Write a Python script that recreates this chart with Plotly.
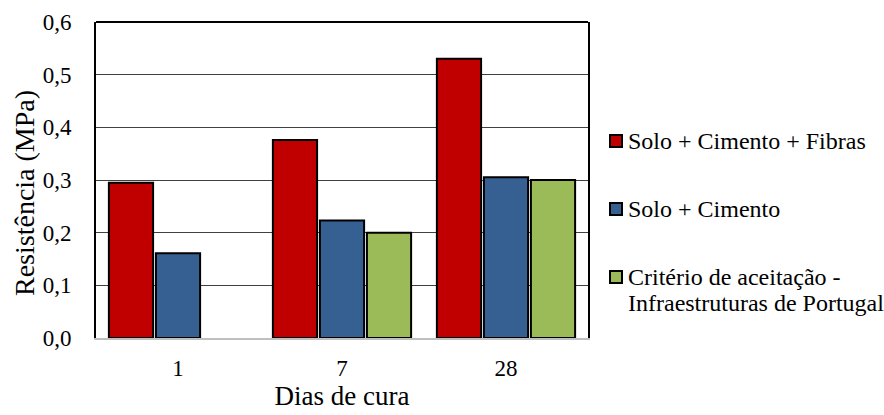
import plotly.graph_objects as go

# Dias de cura (categorias do eixo x)
dias = ["1", "7", "28"]

# Resistência (MPa) de cada série
solo_cimento_fibras = [0.295, 0.376, 0.530]
solo_cimento = [0.161, 0.223, 0.305]
criterio_ip = [None, 0.200, 0.300]

nomes = [
    "Solo + Cimento + Fibras",
    "Solo + Cimento",
    "Critério de aceitação -",
]
nome_extra = "Infraestruturas de Portugal"
cores = ["#C00000", "#376092", "#9BBB59"]

fonte = "Liberation Serif"

fig = go.Figure()
for nome, valores, cor in zip(nomes, [solo_cimento_fibras, solo_cimento, criterio_ip], cores):
    fig.add_trace(go.Bar(
        x=dias, y=valores, name=nome, showlegend=False,
        marker=dict(color=cor, line=dict(color="black", width=2)),
    ))

plot_l, plot_t = 96, 22
plot_w, plot_h = 492, 316


def px_x(x):
    return (x - plot_l) / plot_w


def px_y(y):
    return 1 - (y - plot_t) / plot_h


# Contorno superior da área do gráfico
shapes = [dict(type="line", xref="paper", yref="paper", x0=0, x1=1, y0=1, y1=1,
               line=dict(color="black", width=2))]
annotations = []

# Legenda à direita: quadrado colorido + texto
leg_y = [141, 209, 277]
for nome, cor, yc in zip(nomes, cores, leg_y):
    shapes.append(dict(type="rect", xref="paper", yref="paper",
                       x0=px_x(610), x1=px_x(622),
                       y0=px_y(yc + 6), y1=px_y(yc - 6),
                       fillcolor=cor, line=dict(color="black", width=2)))
    annotations.append(dict(text=nome, xref="paper", yref="paper",
                            x=px_x(626), y=px_y(yc), xanchor="left", yanchor="middle",
                            showarrow=False, font=dict(family=fonte, size=24, color="black")))
annotations.append(dict(text=nome_extra, xref="paper", yref="paper",
                        x=px_x(626), y=px_y(303), xanchor="left", yanchor="middle",
                        showarrow=False, font=dict(family=fonte, size=24, color="black")))

# Título do eixo y
annotations.append(dict(text="Resistência (MPa)", xref="paper", yref="paper",
                        x=px_x(24), y=px_y(193), xanchor="center", yanchor="middle",
                        textangle=-90, showarrow=False,
                        font=dict(family=fonte, size=28, color="black")))

fig.update_layout(
    width=884, height=415,
    margin=dict(l=96, r=296, t=22, b=77, autoexpand=False),
    paper_bgcolor="white", plot_bgcolor="white",
    separators=",.",
    barmode="group", bargap=0.14, bargroupgap=0.06,
    font=dict(family=fonte, size=23, color="black"),
    showlegend=False,
    xaxis=dict(
        showline=True, linecolor="#BFBFBF", linewidth=2,
        ticks="", ticklabelstandoff=8, automargin=False,
        tickfont=dict(family=fonte, size=23, color="black"),
        title=dict(text="Dias de cura", standoff=4, font=dict(family=fonte, size=27, color="black")),
        showgrid=False,
    ),
    yaxis=dict(
        range=[0, 0.6], dtick=0.1, tickformat=".1f", automargin=False,
        showgrid=True, gridcolor="#404040", gridwidth=1,
        showline=True, linecolor="black", linewidth=2, mirror=True,
        ticks="", ticklabelstandoff=18,
        tickfont=dict(family=fonte, size=23, color="black"),
        zeroline=False,
    ),
    shapes=shapes,
    annotations=annotations,
)

fig.write_html("out.html")
